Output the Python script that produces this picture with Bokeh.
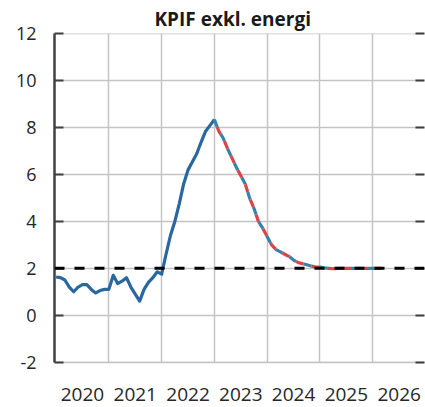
from bokeh.plotting import figure
from bokeh.models import Range1d, FixedTicker, LinearAxis, ColumnDataSource, Span
from bokeh.embed import file_html
from bokeh.resources import INLINE

# ---- data (monthly, index 0 = Jan 2020) ----
outcome = [1.63, 1.6, 1.5, 1.2, 1.0, 1.2, 1.3, 1.3, 1.1, 0.95, 1.05, 1.1,
           1.1, 1.7, 1.35, 1.45, 1.6, 1.2, 0.9, 0.6, 1.1, 1.4, 1.6, 1.85,
           1.75, 2.6, 3.4, 4.0, 4.75, 5.6, 6.2, 6.55, 6.9, 7.4, 7.85, 8.1, 8.35]
forecast_start = 36
forecast = [8.35, 7.85, 7.55, 7.1, 6.7, 6.3, 5.95, 5.6, 5.0, 4.55, 4.0, 3.7,
            3.35, 3.0, 2.8, 2.7, 2.6, 2.5, 2.35, 2.25, 2.2, 2.15, 2.1, 2.05,
            2.05, 2.02, 2.0, 1.98, 2.0, 2.0, 2.0, 2.0, 2.0, 2.0, 2.0, 2.0,
            2.0, 2.0, 2.0]
target = 2.0
years = [2020, 2021, 2022, 2023, 2024, 2025, 2026]
y_ticks = [-2, 0, 2, 4, 6, 8, 10, 12]
title_text = "KPIF exkl. energi"

x_out = [2020 + i / 12 for i in range(len(outcome))]
x_fc = [2020 + (forecast_start + i) / 12 for i in range(len(forecast))]

FONT = "Open Sans"
GRID = "#c4c4c4"
AXIS = "#404040"

p = figure(width=425, height=407, output_backend="svg", toolbar_location=None,
           x_range=Range1d(2019.97, 2026.98), y_range=Range1d(-2.02, 12.02),
           min_border_left=54, min_border_right=1, min_border_top=33, min_border_bottom=45,
           title=title_text)
p.outline_line_color = None
p.background_fill_color = "white"

p.title.text_font = FONT
p.title.text_font_style = "bold"
p.title.text_font_size = "19px"
p.title.text_color = "#1a1a1a"
p.title.align = "left"
p.title.offset = 100
p.title.standoff = 3

# y axis
p.yaxis.ticker = FixedTicker(ticks=y_ticks)
p.yaxis.major_label_overrides = {t: str(t) for t in y_ticks}
p.yaxis.axis_line_color = AXIS
p.yaxis.axis_line_width = 2.5
p.yaxis.major_tick_in = 9
p.yaxis.major_tick_out = 0
p.yaxis.major_tick_line_color = AXIS
p.yaxis.major_tick_line_width = 2
p.yaxis.minor_tick_line_color = None
p.yaxis.major_label_text_font = FONT
p.yaxis.major_label_text_font_size = "18px"
p.yaxis.major_label_text_color = "#262626"
p.yaxis.major_label_standoff = 18

ry = LinearAxis(ticker=FixedTicker(ticks=y_ticks))
ry.axis_line_color = None
ry.major_tick_in = 9
ry.major_tick_out = 0
ry.major_tick_line_color = AXIS
ry.major_tick_line_width = 2
ry.minor_tick_line_color = None
ry.major_label_text_alpha = 0
ry.major_label_text_font_size = "1px"
ry.major_label_standoff = 0
p.add_layout(ry, "right")

# x axis: labels centred in each year
p.xaxis.ticker = FixedTicker(ticks=[y + 0.5 for y in years])
p.xaxis.major_label_overrides = {y + 0.5: str(y) for y in years}
p.xaxis.axis_line_color = GRID
p.xaxis.axis_line_width = 1.5
p.xaxis.major_tick_line_color = None
p.xaxis.minor_tick_line_color = None
p.xaxis.major_label_text_font = FONT
p.xaxis.major_label_text_font_size = "19px"
p.xaxis.major_label_text_color = "#262626"
p.xaxis.major_label_standoff = 19

p.xgrid.ticker = FixedTicker(ticks=years[1:])
p.xgrid.grid_line_color = GRID
p.xgrid.grid_line_width = 1.5
p.ygrid.ticker = FixedTicker(ticks=y_ticks)
p.ygrid.grid_line_color = GRID
p.ygrid.grid_line_width = 1.5

# target line
p.add_layout(Span(location=target, dimension="width", line_color="black",
                  line_width=3, line_dash="10 10"))

src_out = ColumnDataSource(dict(x=x_out, y=outcome))
src_fc = ColumnDataSource(dict(x=x_fc, y=forecast))
p.line("x", "y", source=src_out, line_color="#2a67a0", line_width=3.2, line_join="round")
p.line("x", "y", source=src_fc, line_color="#3583ad", line_width=3.2, line_dash="8 8")
p.line("x", "y", source=src_fc, line_color="#d9454a", line_width=3.2, line_dash="8 8",
       line_dash_offset=8)

open("out.html", "w").write(file_html(p, INLINE))
